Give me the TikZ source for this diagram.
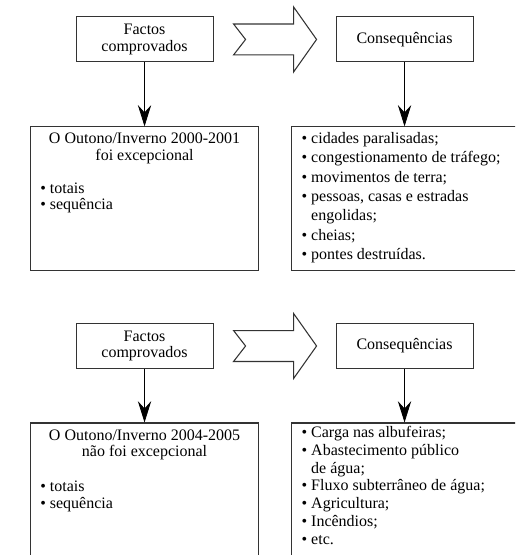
\documentclass[tikz,border=0pt]{standalone}
\usepackage{fontspec}
\setmainfont{Liberation Serif}
\usetikzlibrary{positioning,arrows.meta}

\tikzset{
  kasten/.style={draw=black!80, line width=0.8pt, minimum width=102.75pt, minimum height=33.75pt, align=center, inner sep=2pt},
  gross/.style={draw=black!80, line width=0.8pt, minimum width=171pt, minimum height=108pt},
  unten/.style={draw=black!80, line width=0.8pt, minimum width=171pt, minimum height=150pt},
  liste/.style={align=left, inner sep=0pt, anchor=north west},
  pfeil/.style={line width=0.6pt, -{Stealth[length=16pt,width=10pt,inset=5.5pt]}},
  block/.style={draw=black!80, line width=0.8pt, line join=miter},
}
\newcommand{\pkt}{\textbullet~}
\newcommand{\ein}{\hphantom{\textbullet~}}

\begin{document}
\begin{tikzpicture}[node distance=195pt, on grid, font=\fontsize{12}{12.5}\selectfont]

    \useasboundingbox (0,0) rectangle (386.25pt,-416.25pt);
    \clip (0,0) rectangle (386.25pt,-416.25pt);

    % Kästen oben
    \node[kasten] (F1) at (108.4pt,-29.6pt) {Factos\\comprovados};
    \node[kasten, right=of F1] (C1) {Consequências};
    \node[gross, below=119.6pt of F1] (L1) {};
    \node[gross, below=119.6pt of C1, xshift=1pt] (R1) {};

    % Kästen unten
    \node[kasten, below=229.9pt of F1] (F2) {Factos\\comprovados};
    \node[kasten, right=of F2] (C2) {Consequências};
    \node[unten, below=132.75pt of F2] (L2) {};
    \node[unten, below=132.75pt of C2, xshift=1pt] (R2) {};

    % Texte
    \node[anchor=north, align=center, inner sep=0pt] (L1k) at ([yshift=-5pt]L1.north)
        {O Outono/Inverno 2000-2001\\foi excepcional};
    \node[liste] (L1l) at ([shift={(7.5pt,-42pt)}]L1.north west)
        {\pkt totais\\\pkt sequência};
    \node[liste, font=\fontsize{12}{14.6}\selectfont] (R1l) at ([shift={(7.5pt,-4pt)}]R1.north west)
        {\pkt cidades paralisadas;\\
         \pkt congestionamento de tráfego;\\
         \pkt movimentos de terra;\\
         \pkt pessoas, casas e estradas\\
         \ein engolidas;\\
         \pkt cheias;\\
         \pkt pontes destruídas.};

    \node[anchor=north, align=center, inner sep=0pt] (L2k) at ([yshift=-5pt]L2.north)
        {O Outono/Inverno 2004-2005\\não foi excepcional};
    \node[liste] (L2l) at ([shift={(7.5pt,-44pt)}]L2.north west)
        {\pkt totais\\\pkt sequência};
    \node[liste, font=\fontsize{12}{13.4}\selectfont] (R2l) at ([shift={(7.5pt,-2.5pt)}]R2.north west)
        {\pkt Carga nas albufeiras;\\
         \pkt Abastecimento público\\
         \ein de água;\\
         \pkt Fluxo subterrâneo de água;\\
         \pkt Agricultura;\\
         \pkt Incêndios;\\
         \pkt etc.};

    % Pfeile
    \foreach \n in {1,2} {
        \draw[pfeil] (F\n) -- (L\n);
        \draw[pfeil] (C\n) -- (C\n |- R\n.north);
        \draw[block] ([xshift=15pt,yshift=11.6pt]F\n.east) -- ++(45pt,0) -- ++(0,12.8pt)
            -- ++(17.25pt,-24.4pt) -- ++(-17.25pt,-24.4pt) -- ++(0,12.8pt)
            -- ++(-45pt,0) -- ++(9pt,11.6pt) -- cycle;
    }

\end{tikzpicture}
\end{document}
